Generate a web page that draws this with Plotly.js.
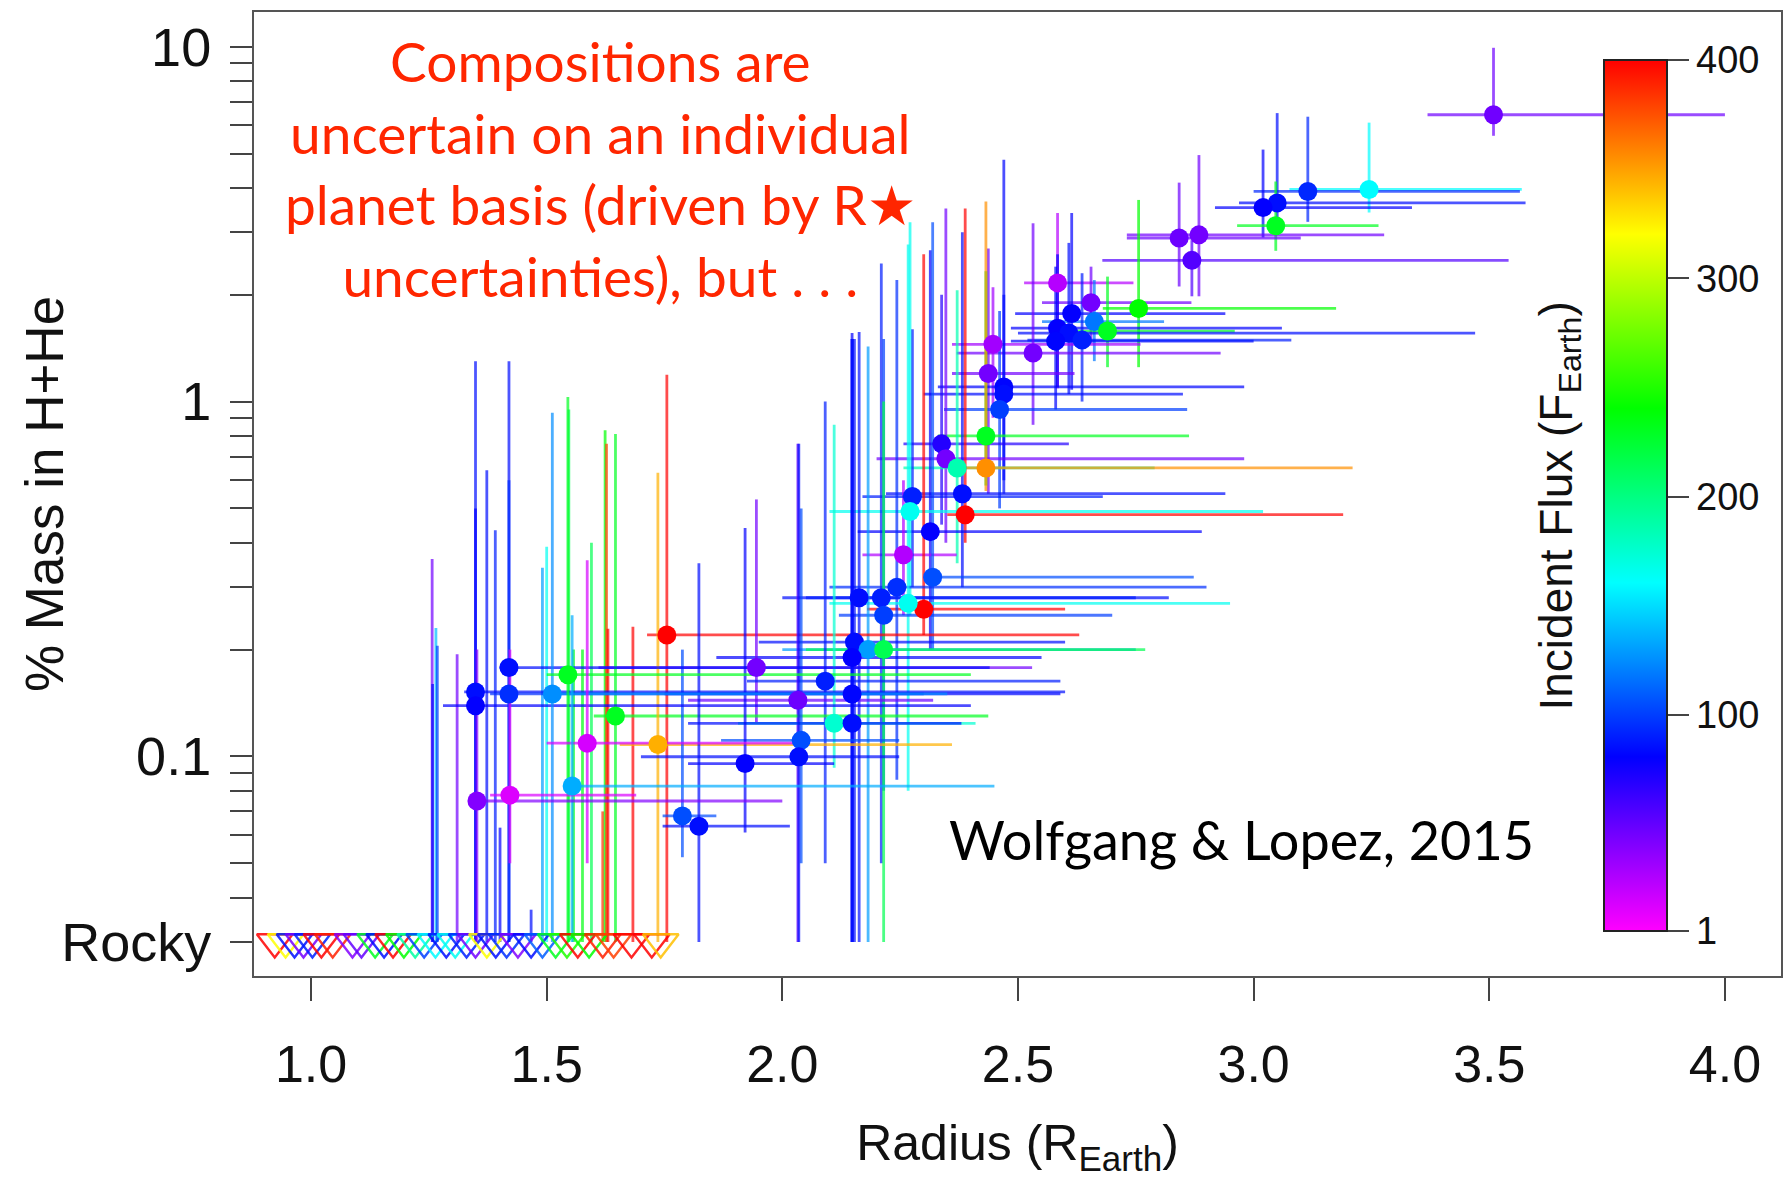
<!DOCTYPE html>
<html>
<head>
<meta charset="utf-8">
<script src="https://cdn.plot.ly/plotly-3.0.1.min.js"></script>
<style>
  html, body { margin: 0; padding: 0; background: #ffffff; }
  #chart { width: 1783px; height: 1178px; }
</style>
</head>
<body>
<div id="chart"></div>
<script>
// ---------------- data ----------------
const ROCKY = 0.03;   // value at which the "Rocky" row is drawn

// planets with a measured H+He fraction
const radius   = [3.509,3.245,3.115,3.05,3.02,3.047,2.842,2.884,2.869,
  2.584,2.655,2.614,2.756,2.662,2.69,2.584,2.608,2.58,2.636,2.532,2.447,2.437,2.47,2.47,2.461,2.432,2.338,2.347,2.371,2.432,2.382,2.388,2.314,2.257,2.319,2.276,2.271,2.30,2.163,2.21,2.243,2.267,2.215,2.153,2.182,2.215,2.148,1.755,1.945,2.091,2.148,2.033,1.646,2.11,2.148,1.736,2.04,1.921,2.035,1.788,1.823,
  1.349,1.349,1.42,1.42,1.512,1.545,1.586,1.554,1.422,1.352];
const hhMass   = [6.43,3.96,3.91,3.63,3.52,3.13,2.89,2.95,2.5,
  2.16,1.9,1.77,1.83,1.68,1.58,1.61,1.56,1.48,1.49,1.37,1.45,1.2,1.1,1.05,0.95,0.8,0.76,0.69,0.65,0.65,0.55,0.48,0.43,0.37,0.32,0.54,0.49,0.26,0.28,0.28,0.30,0.27,0.25,0.21,0.20,0.20,0.19,0.22,0.178,0.163,0.15,0.144,0.13,0.124,0.124,0.108,0.111,0.0955,0.0998,0.068,0.0636,
  0.152,0.139,0.178,0.15,0.15,0.17,0.109,0.0825,0.0778,0.0749];
const radiusLo = [3.369,3.076,3.00,2.969,2.918,2.965,2.731,2.731,2.679,
  2.513,2.551,2.494,2.68,2.551,2.58,2.485,2.50,2.485,2.52,2.37,2.36,2.36,2.33,2.30,2.343,2.33,2.257,2.2,2.257,2.39,2.22,2.35,2.16,2.17,2.30,2.17,2.1,2.18,2.0,2.05,2.1,2.1,2.12,1.95,2.0,2.05,1.86,1.713,1.61,1.925,1.75,1.80,1.60,1.906,1.80,1.655,1.87,1.80,1.70,1.746,1.746,
  1.325,1.28,1.40,1.38,1.50,1.50,1.50,1.55,1.38,1.35];
const radiusHi = [4.00,3.569,3.565,3.577,3.336,3.265,3.10,3.277,3.541,
  2.745,2.868,2.94,3.175,2.81,2.96,3.06,3.47,3.0,3.08,2.93,2.76,2.62,2.98,2.85,2.859,2.863,2.608,2.98,2.79,3.21,2.94,3.19,2.89,2.37,2.873,2.68,3.02,2.6,2.82,2.75,2.9,2.95,2.7,2.6,2.75,2.77,2.55,2.63,2.53,2.59,2.59,2.32,2.437,2.41,2.38,2.36,2.248,2.11,2.248,1.86,2.016,
  2.6,2.4,2.44,2.3,2.35,2.4,2.03,2.45,1.69,2.0];
const massLo   = [5.61,3.41,3.21,3.13,2.9,2.66,2.11,1.98,1.98,
  1.09,1.46,1.08,1.25,1.3,1.25,1.1,1.05,0.95,1.0,0.86,0.9,0.55,0.6,0.55,0.5,0.58,0.45,0.4,0.35,0.56,0.3,0.4,0.2,0.25,0.2,0.3,0.25,0.22,0.03,0.05,0.086,0.08,0.08,0.03,0.03,0.03,0.03,0.03,0.125,0.05,0.03,0.03,0.03,0.093,0.03,0.03,0.05,0.061,0.03,0.052,0.03,
  0.03,0.03,0.03,0.03,0.03,0.03,0.05,0.03,0.05,0.03];
const massHi   = [9.93,6.11,6.35,6.5,5.13,4.17,4.14,4.95,2.85,
  3.4,2.4,3.4,3.7,2.2,2.25,2.6,2.8,2.4,2.3,3.18,2.1,2.7,4.8,2.0,1.8,2.33,2.0,3.5,2.06,3.66,3.0,3.5,2.67,0.6,3.2,1.6,3.2,2.6,1.57,2.45,2.2,2.77,1.5,1.5,1.43,1.0,1.56,1.19,0.53,1.0,1.5,0.76,0.81,0.86,1.5,0.63,0.5,0.44,0.76,0.2,0.35,
  1.3,0.5,1.3,0.6,0.93,1.03,0.357,0.25,0.2,0.2];
const flux     = [46,160,93,85,80,230,47,45,55,
  24,45,80,240,118,230,80,85,82,90,45,30,45,82,85,100,230,70,45,185,355,85,400,80,25,105,90,165,400,85,90,95,165,100,85,130,215,80,400,45,90,82,47,230,175,85,345,105,80,85,105,85,
  85,80,85,95,125,230,14,135,12,40];

// planets consistent with a purely rocky composition (triangles)
const rockyRadius = [0.923,0.946,0.965,0.984,1.003,1.022,1.046,1.088,1.107,1.136,1.155,1.174,1.197,1.221,1.24,1.264,1.287,1.306,1.33,1.349,1.373,1.392,1.415,1.439,1.467,1.491,1.519,1.543,1.566,1.59,1.619,1.642,1.68,1.723,1.742];
const rockyFlux   = [400,320,85,45,90,400,390,40,50,230,85,400,240,190,100,160,85,165,90,45,320,85,95,40,85,110,230,250,400,240,390,380,400,400,340];

// upper-limit lines rising from the rocky row
const limitRadius = [1.257,1.258,1.265,1.268,1.31,1.373,1.391,1.401,1.467,1.491,1.50,1.547,1.557,1.576,1.595,1.619,1.624,1.627,1.63,1.683];
const limitTop    = [0.36,0.16,0.23,0.205,0.194,0.64,0.434,0.063,0.037,0.34,0.39,0.95,0.2,0.2,0.4,0.07,0.83,0.76,0.229,0.232];
const limitFlux   = [45,85,140,100,45,85,90,80,85,130,165,215,230,235,215,385,240,380,400,400];

// axis ticks
const xTickVals = [1.0,1.5,2.0,2.5,3.0,3.5,4.0];
const xTickText = ['1.0','1.5','2.0','2.5','3.0','3.5','4.0'];
const yTickVals = [ROCKY,0.1,1,10];
const yTickText = ['Rocky','0.1','1','10'];
const yMinorVals = [0.04,0.05,0.06,0.07,0.08,0.09,0.2,0.3,0.4,0.5,0.6,0.7,0.8,0.9,2,3,4,5,6,7,8,9];
const fluxTickVals = [1,100,200,300,400];
const FLUX_MIN = 1, FLUX_MAX = 400;

// ---------------- colour helpers (R-style rainbow, magenta -> red) ----------------
function hsvToRgb(h, s, v) {
  const c = v * s, hp = (h % 360) / 60, x = c * (1 - Math.abs(hp % 2 - 1));
  let r = 0, g = 0, b = 0;
  if (hp < 1) { r = c; g = x; } else if (hp < 2) { r = x; g = c; }
  else if (hp < 3) { g = c; b = x; } else if (hp < 4) { g = x; b = c; }
  else if (hp < 5) { r = x; b = c; } else { r = c; b = x; }
  const m = v - c;
  return [Math.round((r + m) * 255), Math.round((g + m) * 255), Math.round((b + m) * 255)];
}
function fluxColor(f, a) {
  const t = Math.min(1, Math.max(0, (f - FLUX_MIN) / (FLUX_MAX - FLUX_MIN)));
  const [r, g, b] = hsvToRgb(300 * (1 - t), 1, 1);
  return a === undefined ? `rgb(${r},${g},${b})` : `rgba(${r},${g},${b},${a})`;
}
const rainbowScale = [];
for (let k = 0; k <= 20; k++) {
  const t = k / 20;
  rainbowScale.push([t, fluxColor(FLUX_MIN + t * (FLUX_MAX - FLUX_MIN))]);
}

const FONT = 'Liberation Sans, Arial, Helvetica, sans-serif';
const GILL = 'Lato, "Open Sans", sans-serif';
const BAR_ALPHA = 0.7;
const BAR_W = 2.8;
const traces = [];

// upper-limit lines
limitRadius.forEach((r, i) => {
  traces.push({
    type: 'scatter', mode: 'markers', x: [r], y: [ROCKY],
    marker: { size: 1, color: 'rgba(0,0,0,0)' },
    error_y: { type: 'data', symmetric: false, array: [limitTop[i] - ROCKY], arrayminus: [0],
               color: fluxColor(limitFlux[i], BAR_ALPHA), thickness: BAR_W, width: 0 },
    hoverinfo: 'skip', showlegend: false
  });
});

// error bars of the measured planets
radius.forEach((r, i) => {
  traces.push({
    type: 'scatter', mode: 'markers', x: [r], y: [hhMass[i]],
    marker: { size: 1, color: 'rgba(0,0,0,0)' },
    error_x: { type: 'data', symmetric: false, array: [radiusHi[i] - r], arrayminus: [r - radiusLo[i]],
               color: fluxColor(flux[i], BAR_ALPHA), thickness: BAR_W, width: 0 },
    error_y: { type: 'data', symmetric: false, array: [massHi[i] - hhMass[i]], arrayminus: [hhMass[i] - massLo[i]],
               color: fluxColor(flux[i], BAR_ALPHA), thickness: BAR_W, width: 0 },
    hoverinfo: 'skip', showlegend: false
  });
});

// rocky triangles
traces.push({
  type: 'scatter', mode: 'markers', x: rockyRadius, y: rockyRadius.map(() => ROCKY),
  marker: { symbol: 'triangle-down-open', size: 31, color: rockyFlux, colorscale: rainbowScale,
            cmin: FLUX_MIN, cmax: FLUX_MAX, showscale: false, opacity: 0.85, line: { width: 2.4 } },
  showlegend: false, hoverinfo: 'x'
});

// measured planets (dots) + colour bar
traces.push({
  type: 'scatter', mode: 'markers', x: radius, y: hhMass,
  marker: {
    size: 19, color: flux, colorscale: rainbowScale, cmin: FLUX_MIN, cmax: FLUX_MAX,
    line: { width: 0 },
    showscale: true,
    colorbar: {
      x: 0.884, xanchor: 'left', y: 0.0467, yanchor: 'bottom',
      len: 0.9035, lenmode: 'fraction', thickness: 63, thicknessmode: 'pixels',
      xpad: 0, ypad: 0, outlinewidth: 2, outlinecolor: '#222',
      tickvals: fluxTickVals, ticktext: fluxTickVals.map(String),
      ticks: 'outside', ticklen: 21, tickwidth: 2, tickcolor: '#444',
      tickfont: { family: FONT, size: 38, color: '#111' }
    }
  },
  showlegend: false
});

const layout = {
  width: 1783, height: 1178,
  margin: { l: 254, r: 2, t: 12, b: 202 },
  paper_bgcolor: '#ffffff', plot_bgcolor: '#ffffff',
  font: { family: FONT, color: '#111' },
  showlegend: false,
  xaxis: {
    range: [0.879, 4.119], autorange: false,
    tickvals: xTickVals, ticktext: xTickText,
    ticks: 'outside', ticklen: 23, tickwidth: 2, tickcolor: '#444',
    tickfont: { family: FONT, size: 52, color: '#111' },
    ticklabelstandoff: 19,
    showgrid: false, zeroline: false,
    showline: true, mirror: true, linecolor: '#555', linewidth: 2,
    title: { text: 'Radius (R<sub>Earth</sub>)', font: { family: FONT, size: 50, color: '#111' }, standoff: 44 }
  },
  yaxis: {
    type: 'log', range: [-1.6187, 1.0978], autorange: false,
    tickvals: yTickVals, ticktext: yTickText,
    ticks: 'outside', ticklen: 22, tickwidth: 2, tickcolor: '#444',
    tickfont: { family: FONT, size: 54, color: '#111' },
    ticklabelstandoff: 8,
    minor: { tickvals: yMinorVals, ticks: 'outside', ticklen: 22, tickwidth: 2, tickcolor: '#444', showgrid: false },
    showgrid: false, zeroline: false,
    showline: true, mirror: true, linecolor: '#555', linewidth: 2
  },
  annotations: [
    {
      xref: 'paper', yref: 'paper', x: -0.1375, y: 0.5, xanchor: 'center', yanchor: 'middle',
      text: '% Mass in H+He', showarrow: false, textangle: -90,
      font: { family: FONT, size: 53, color: '#111' }
    },
    {
      xref: 'paper', yref: 'paper', x: 0.2266, y: 0.838, xanchor: 'center', yanchor: 'middle',
      text: 'Compositions are<br>uncertain on an individual<br>planet basis (driven by R★<br>uncertainties), but . . .',
      showarrow: false, align: 'center',
      font: { family: GILL, size: 55, color: '#ff2600' }
    },
    {
      xref: 'paper', yref: 'paper', x: 0.647, y: 0.142, xanchor: 'center', yanchor: 'middle',
      text: 'Wolfgang & Lopez, 2015', showarrow: false,
      font: { family: GILL, size: 54, color: '#000000' }
    },
    {
      xref: 'paper', yref: 'paper', x: 0.855, y: 0.4876, xanchor: 'center', yanchor: 'middle',
      text: 'Incident Flux (F<sub>Earth</sub>)', showarrow: false, textangle: -90,
      font: { family: FONT, size: 46, color: '#111' }
    }
  ]
};

Plotly.newPlot('chart', traces, layout, { staticPlot: true, displayModeBar: false });
</script>
</body>
</html>
